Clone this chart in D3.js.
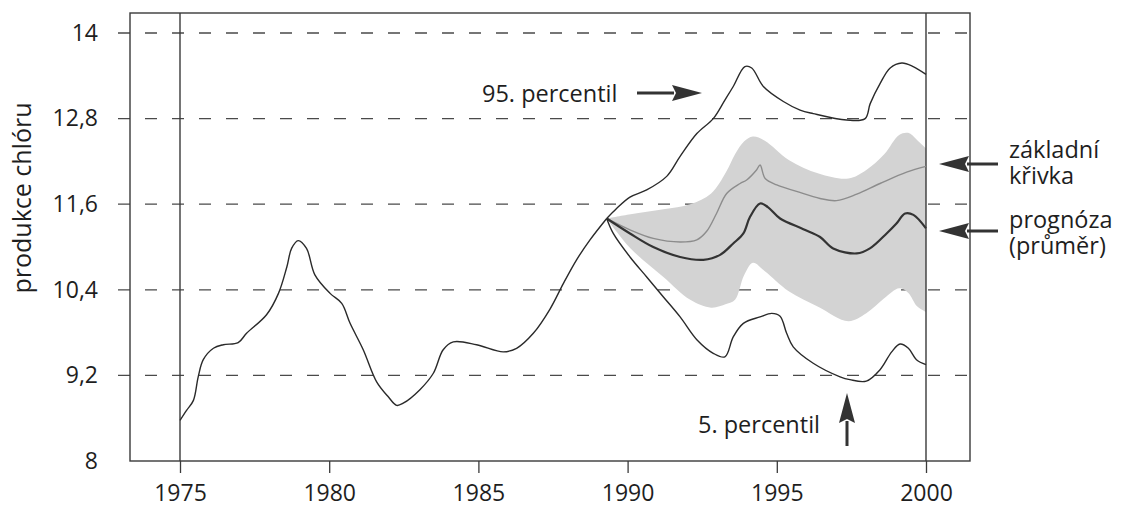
<!DOCTYPE html>
<html>
<head>
<meta charset="utf-8">
<script src="https://cdn.jsdelivr.net/npm/d3@7"></script>
<style>
  html, body { margin: 0; padding: 0; background: #fff; }
  svg { display: block; }
  text { font-family: "Open Sans", "Noto Sans", sans-serif; fill: #1e1e1e; }
</style>
</head>
<body>
<svg id="chart" width="1121" height="511"></svg>
<script>
// Historical chlorine production, 1975 – 1989
const histYears = [1975.0, 1975.22, 1975.45, 1975.61, 1975.78, 1976.12, 1976.45, 1976.95, 1977.23, 1977.9,
  1978.3, 1978.58, 1978.74, 1978.96, 1979.24, 1979.52, 1980.03, 1980.42, 1980.7, 1981.14,
  1981.59, 1981.98, 1982.26, 1982.48, 1983.04, 1983.49, 1983.82, 1984.16, 1984.94, 1985.83,
  1986.28, 1986.84, 1987.4, 1987.85, 1988.29, 1988.74, 1989.3];
const histValues = [8.57, 8.71, 8.85, 9.18, 9.42, 9.58, 9.63, 9.66, 9.79, 10.05,
  10.35, 10.72, 10.98, 11.09, 10.98, 10.61, 10.35, 10.21, 9.93, 9.56,
  9.11, 8.90, 8.78, 8.81, 9.0, 9.23, 9.56, 9.67, 9.63, 9.53,
  9.58, 9.79, 10.13, 10.49, 10.82, 11.10, 11.40];

// 95th percentile of the forecast
const p95Years = [1989.3, 1989.63, 1990.08, 1990.64, 1991.31, 1991.76, 1992.32, 1992.87, 1993.26, 1993.54,
  1993.93, 1994.16, 1994.55, 1995.22, 1995.78, 1996.22, 1997.34, 1997.96, 1998.13, 1998.46,
  1998.8, 1999.19, 1999.57, 2000.0];
const p95Values = [11.40, 11.54, 11.70, 11.80, 11.99, 12.27, 12.59, 12.80, 13.06, 13.25,
  13.53, 13.51, 13.25, 13.04, 12.92, 12.87, 12.78, 12.80, 13.01, 13.29,
  13.51, 13.58, 13.53, 13.42];

// 5th percentile of the forecast
const p5Years = [1989.3, 1989.52, 1990.08, 1990.64, 1991.2, 1991.76, 1992.32, 1992.87, 1993.26, 1993.54,
  1993.88, 1994.44, 1994.83, 1995.11, 1995.33, 1995.55, 1996.22, 1997.12, 1997.45, 1998.0,
  1998.46, 1998.85, 1999.13, 1999.41, 1999.68, 2000.0];
const p5Values = [11.40, 11.19, 10.86, 10.58, 10.30, 10.02, 9.70, 9.51, 9.46, 9.74,
  9.93, 10.02, 10.07, 10.03, 9.79, 9.60, 9.37, 9.18, 9.14, 9.12,
  9.28, 9.53, 9.64, 9.58, 9.42, 9.35];

// Baseline curve ("základní křivka")
const baseYears = [1989.3, 1990.08, 1990.86, 1991.76, 1992.32, 1992.65, 1992.98, 1993.32, 1993.77, 1993.99,
  1994.32, 1994.44, 1994.61, 1995.0, 1995.66, 1996.45, 1997.0, 1997.68, 1998.46, 1999.35, 2000.0];
const baseValues = [11.40, 11.24, 11.12, 11.07, 11.10, 11.22, 11.47, 11.75, 11.89, 11.94,
  12.08, 12.15, 11.96, 11.87, 11.78, 11.68, 11.65, 11.74, 11.89, 12.05, 12.13];

// Forecast mean ("prognóza (průměr)")
const meanYears = [1989.3, 1990.08, 1990.86, 1991.76, 1992.54, 1993.1, 1993.54, 1993.88, 1994.1, 1994.44,
  1994.7, 1995.11, 1995.89, 1996.45, 1996.89, 1997.68, 1998.12, 1998.68, 1999.01, 1999.3,
  1999.58, 2000.0];
const meanValues = [11.40, 11.19, 11.0, 10.86, 10.82, 10.89, 11.05, 11.19, 11.42, 11.61,
  11.56, 11.40, 11.25, 11.14, 10.98, 10.91, 10.98, 11.19, 11.33, 11.47,
  11.45, 11.26];

// Shaded uncertainty band around the forecast
const bandYears = [1989.3, 1990.1, 1991.2, 1992.1, 1992.8, 1993.3, 1993.6, 1993.9, 1994.2, 1994.6,
  1995.4, 1996.4, 1997.4, 1998.0, 1998.6, 1999.1, 1999.4, 1999.7, 2000.0];
const bandHigh = [11.40, 11.46, 11.53, 11.60, 11.75, 12.05, 12.30, 12.48, 12.55, 12.49,
  12.22, 12.03, 11.96, 12.08, 12.30, 12.57, 12.60, 12.50, 12.38];
const bandLow = [11.40, 10.98, 10.58, 10.26, 10.15, 10.20, 10.26, 10.60, 10.78, 10.66,
  10.38, 10.16, 9.96, 10.07, 10.28, 10.42, 10.36, 10.17, 10.09];

// Axis ticks
const yTicks = [8, 9.2, 10.4, 11.6, 12.8, 14];
const xTicks = [1975, 1980, 1985, 1990, 1995, 2000];
const yTitle = "produkce chlóru";

const svg = d3.select("#chart");

const x = d3.scaleLinear().domain([1975, 2000]).range([180, 926]);
const y = d3.scaleLinear().domain([8, 14]).range([461, 33]);

const frame = { left: 130, right: 970, top: 13, bottom: 461 };
const ink = "#2a2a2a";

// Dashed horizontal grid lines at every y tick
const gridG = svg.append("g");
yTicks.filter(v => v > 8).forEach(v => {
  gridG.append("line")
    .attr("x1", 118).attr("x2", frame.right - 2)
    .attr("y1", y(v)).attr("y2", y(v))
    .attr("stroke", "#4a4a4a").attr("stroke-width", 1.3)
    .attr("stroke-dasharray", "12 15");
});

// Uncertainty band
const band = bandYears.map((t, i) => ({ t, hi: bandHigh[i], lo: bandLow[i] }));
const area = d3.area()
  .x(d => x(d.t)).y0(d => y(d.lo)).y1(d => y(d.hi))
  .curve(d3.curveCatmullRom.alpha(0.5));
svg.append("path").datum(band)
  .attr("d", area)
  .attr("fill", "#d3d3d3");

// Frame
svg.append("rect")
  .attr("x", frame.left).attr("y", frame.top)
  .attr("width", frame.right - frame.left).attr("height", frame.bottom - frame.top)
  .attr("fill", "none").attr("stroke", "#3a3a3a").attr("stroke-width", 1.4);

// Bottom axis: ticks below the frame, full-height lines at 1975 and 2000
const xAxis = d3.axisBottom(x).tickValues(xTicks).tickFormat(d3.format("d"))
  .tickSize(12).tickPadding(12);
const xg = svg.append("g").attr("transform", `translate(0,${frame.bottom})`).call(xAxis);
xg.select(".domain").remove();
xg.selectAll(".tick line").attr("stroke", "#3a3a3a").attr("stroke-width", 1.3);
xg.selectAll(".tick text")
  .style("font-family", '"Open Sans", sans-serif').style("font-size", "23px")
  .attr("fill", "#1e1e1e");
[1975, 2000].forEach(t => {
  svg.append("line")
    .attr("x1", x(t)).attr("x2", x(t))
    .attr("y1", frame.top).attr("y2", frame.bottom)
    .attr("stroke", "#3a3a3a").attr("stroke-width", 1.4);
});

// Left axis labels
const yAxis = d3.axisLeft(y).tickValues(yTicks)
  .tickFormat(d => d3.format(".1~f")(d).replace(".", ","))
  .tickSize(0).tickPadding(20);
const yg = svg.append("g").attr("transform", `translate(${118},0)`).call(yAxis);
yg.select(".domain").remove();
yg.selectAll(".tick text")
  .style("font-family", '"Open Sans", sans-serif').style("font-size", "23px")
  .attr("fill", "#1e1e1e");

svg.append("text")
  .attr("transform", "translate(31,198) rotate(-90)")
  .attr("text-anchor", "middle")
  .style("font-size", "25px")
  .text(yTitle);

// Series lines
const lineOf = (ts, vs) => d3.line()
  .x(d => x(d[0])).y(d => y(d[1]))
  .curve(d3.curveCatmullRom.alpha(0.5))(ts.map((t, i) => [t, vs[i]]));

svg.append("path").attr("d", lineOf(baseYears, baseValues))
  .attr("fill", "none").attr("stroke", "#8c8c8c").attr("stroke-width", 1.4);
svg.append("path").attr("d", lineOf(meanYears, meanValues))
  .attr("fill", "none").attr("stroke", "#333").attr("stroke-width", 2.2);
svg.append("path").attr("d", lineOf(histYears, histValues))
  .attr("fill", "none").attr("stroke", ink).attr("stroke-width", 1.4);
svg.append("path").attr("d", lineOf(p95Years, p95Values))
  .attr("fill", "none").attr("stroke", ink).attr("stroke-width", 1.4);
svg.append("path").attr("d", lineOf(p5Years, p5Values))
  .attr("fill", "none").attr("stroke", ink).attr("stroke-width", 1.4);

// Annotation arrows
function arrow(x1, y1, x2, y2) {
  const len = Math.hypot(x2 - x1, y2 - y1);
  const ux = (x2 - x1) / len, uy = (y2 - y1) / len;
  const headLen = 30, headHalf = 8;
  const bx = x2 - ux * headLen, by = y2 - uy * headLen;
  svg.append("line")
    .attr("x1", x1).attr("y1", y1).attr("x2", bx + ux * 2).attr("y2", by + uy * 2)
    .attr("stroke", "#333").attr("stroke-width", 3);
  const pts = [
    [x2, y2],
    [bx - uy * headHalf, by + ux * headHalf],
    [bx + ux * 4, by + uy * 4],
    [bx + uy * headHalf, by - ux * headHalf]
  ];
  svg.append("path")
    .attr("d", "M" + pts.map(p => p.join(",")).join("L") + "Z")
    .attr("fill", "#333");
}

arrow(637, 93, 702, 93);
arrow(998, 164, 939, 164);
arrow(998, 231, 939, 231);
arrow(847, 446, 847, 393);

// Annotation texts; multi-line notes share one text element
function note(tx, ty, lines) {
  const t = svg.append("text")
    .attr("x", tx).attr("y", ty)
    .style("font-size", "23.5px");
  lines.forEach((s, i) => {
    t.append("tspan").attr("x", tx).attr("dy", i === 0 ? 0 : 25.5).text(s);
  });
}

note(482, 102, ["95. percentil"]);
note(698, 433, ["5. percentil"]);
note(1009, 158, ["základní", "křivka"]);
note(1009, 228, ["prognóza", "(průměr)"]);
</script>
</body>
</html>
